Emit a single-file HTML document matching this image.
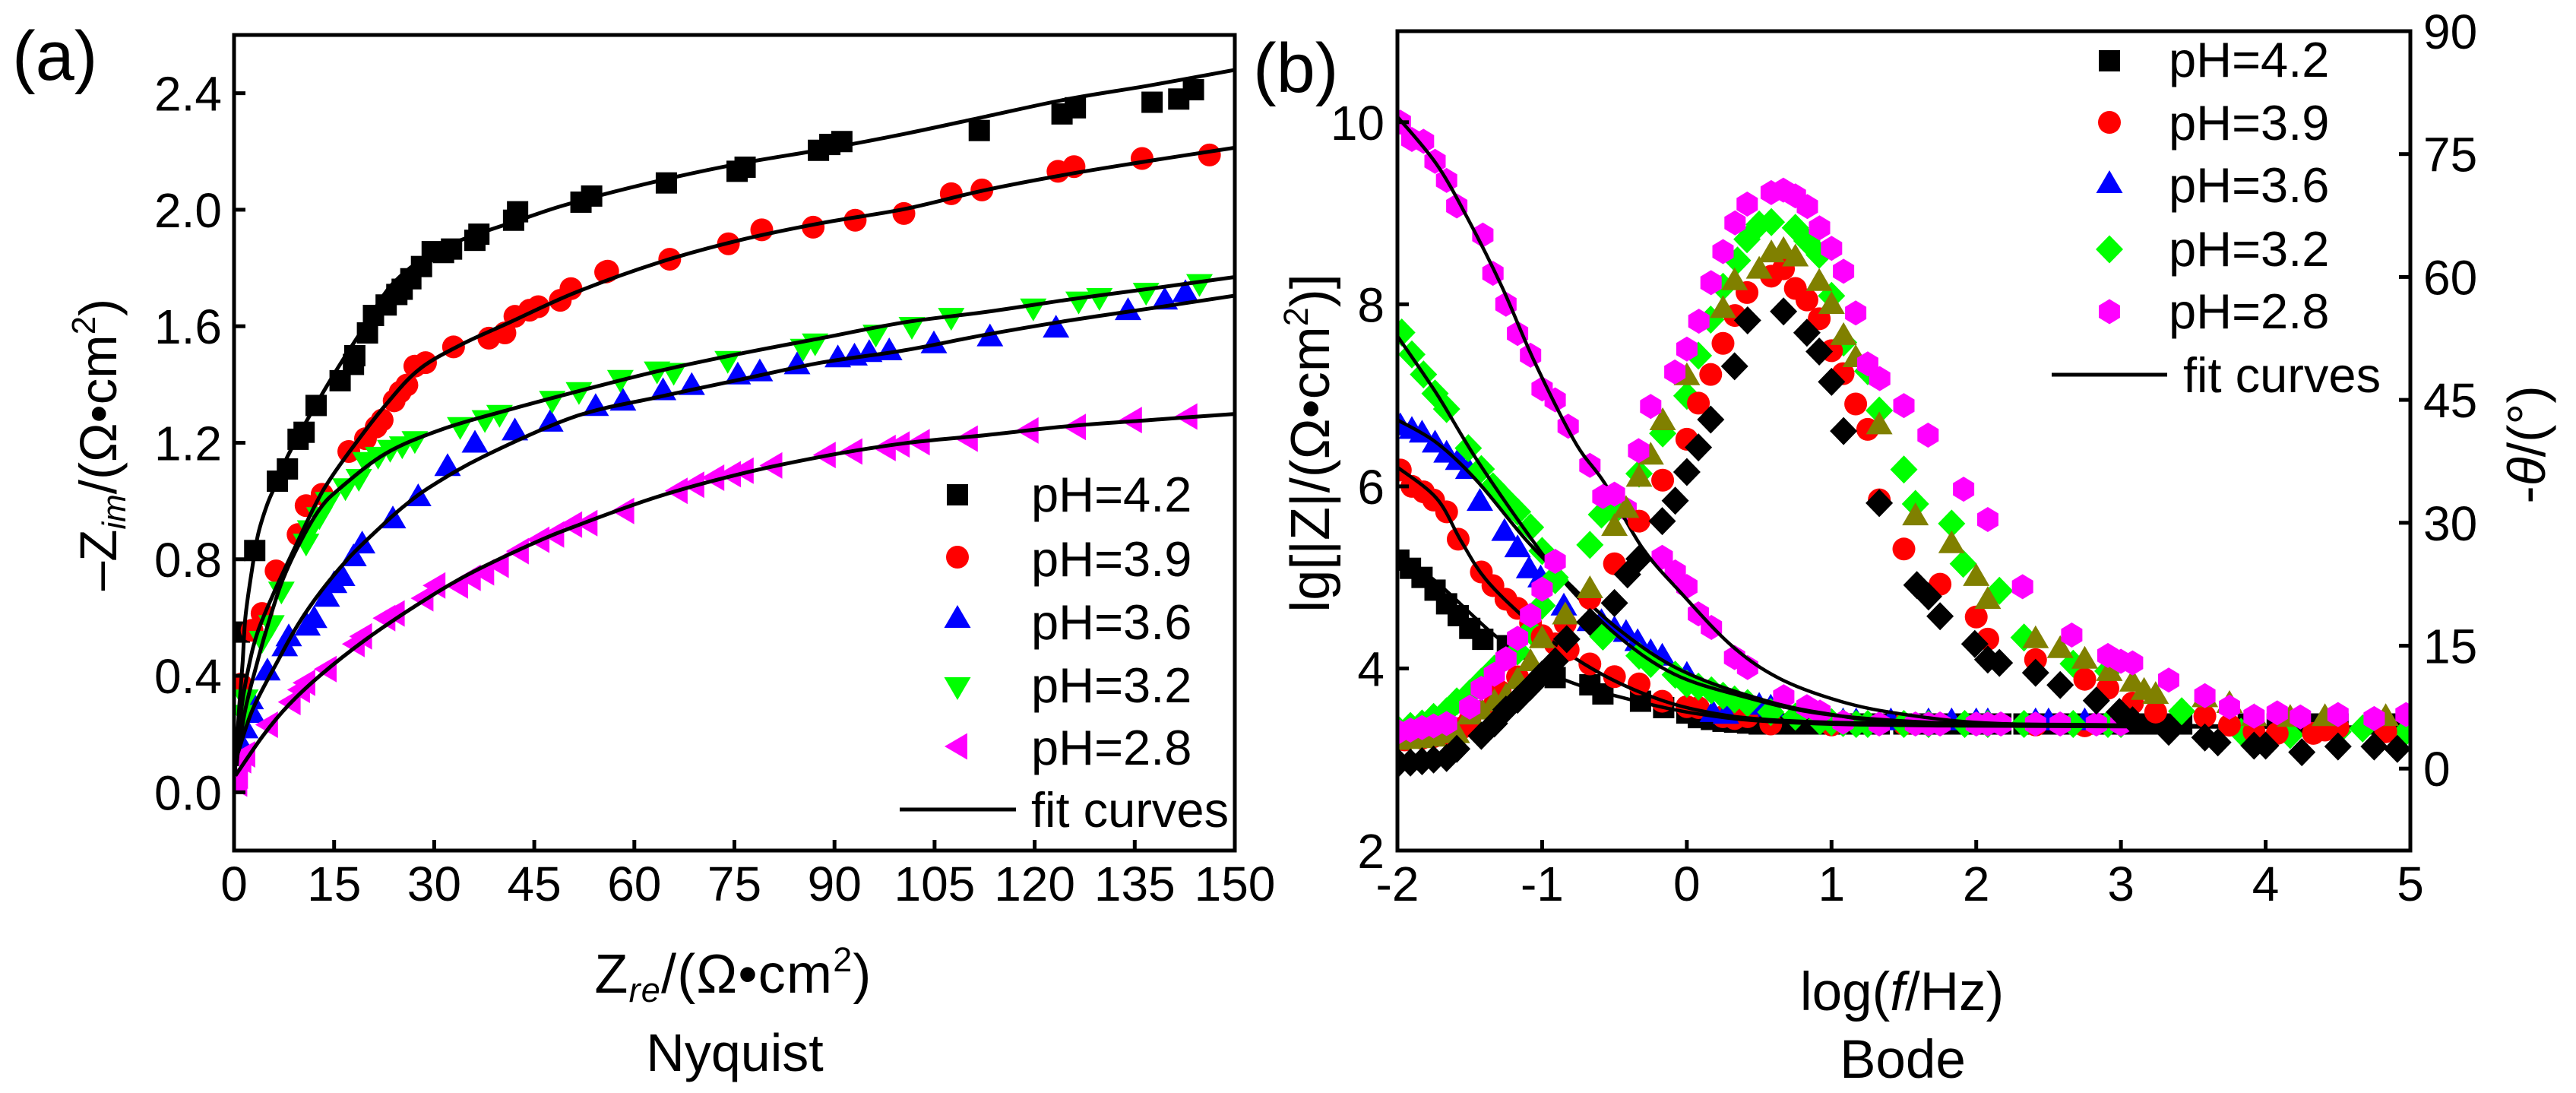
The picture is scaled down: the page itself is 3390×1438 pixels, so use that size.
<!DOCTYPE html>
<html lang="en">
<head>
<meta charset="utf-8">
<title>Nyquist and Bode impedance plots</title>
<style>
html,body{margin:0;padding:0;background:#fff;width:3390px;height:1438px;overflow:hidden}
svg{display:block}
text{font-family:"Liberation Sans",Arial,sans-serif;fill:#000}
</style>
</head>
<body>
<svg id="fig" xmlns="http://www.w3.org/2000/svg" width="3390" height="1438" viewBox="0 0 3390 1438">
<defs>
<clipPath id="clipA"><rect x="308" y="46" width="1317" height="1073"/></clipPath>
<clipPath id="clipB"><rect x="1839" y="41" width="1333" height="1078"/></clipPath>
</defs>
<g id="panelA"></g>
<g id="panelB"></g>

<text x="16" y="105" font-size="92">(a)</text>
<text x="1649" y="121" font-size="92">(b)</text>

<text transform="translate(153,585) rotate(-90)" text-anchor="middle" font-size="69">–Z<tspan font-size="44" font-style="italic" dy="12">im</tspan><tspan dy="-12">/(Ω•cm</tspan><tspan font-size="44" dy="-28">2</tspan><tspan dy="28">)</tspan></text>
<text x="965" y="1306" text-anchor="middle" font-size="72" letter-spacing="1.2">Z<tspan font-size="45" font-style="italic" dy="12">re</tspan><tspan dy="-12">/(Ω•cm</tspan><tspan font-size="45" dy="-28">2</tspan><tspan dy="28">)</tspan></text>
<text x="967" y="1409" text-anchor="middle" font-size="70">Nyquist</text>

<text transform="translate(1749,583) rotate(-90)" text-anchor="middle" font-size="72">lg[|Z|/(Ω•cm<tspan font-size="45" dy="-28">2</tspan><tspan dy="28">)]</tspan></text>
<text transform="translate(3349,585) rotate(-90)" text-anchor="middle" font-size="70">-<tspan font-style="italic">θ</tspan>/(°)</text>
<text x="2503" y="1329" text-anchor="middle" font-size="71">log(<tspan font-style="italic">f</tspan>/Hz)</text>
<text x="2504" y="1418" text-anchor="middle" font-size="71">Bode</text>
</svg>

<script>
// ---------- Nyquist tick labels ----------
const nyquistXTicks = [0,15,30,45,60,75,90,105,120,135,150];
const nyquistYTicks = [0.0,0.4,0.8,1.2,1.6,2.0,2.4];
// ---------- Nyquist points [Zre, -Zim] ----------
const nyqPh42 = [[143.8,2.412],[141.6,2.380],[137.6,2.369],[126.1,2.350],[124.1,2.329],[111.7,2.272],[91.1,2.234],[89.3,2.224],[87.6,2.204],[76.6,2.146],[75.4,2.132],[64.8,2.092],[53.6,2.047],[52,2.026],[42.5,1.993],[41.9,1.964],[36.7,1.916],[36.1,1.895],[32.6,1.865],[31.4,1.853],[29.7,1.856],[28.1,1.805],[26.5,1.763],[25.2,1.727],[24.4,1.709],[22.8,1.673],[20.9,1.637],[20,1.577],[18.1,1.499],[17.9,1.469],[15.9,1.413],[12.3,1.328],[10.5,1.236],[9.6,1.212],[8,1.110],[6.5,1.068],[3.1,0.83],[0.8,0.55]];
const nyqPh39 = [[146.2,2.188],[136.1,2.176],[125.9,2.148],[123.5,2.132],[112.1,2.068],[107.5,2.055],[100.4,1.987],[93.1,1.964],[86.8,1.940],[79.1,1.931],[74.1,1.883],[65.3,1.830],[56,1.789],[55.7,1.786],[50.5,1.729],[48.9,1.689],[45.6,1.667],[44.3,1.655],[42.1,1.634],[40.6,1.577],[38.2,1.559],[32.9,1.529],[28.7,1.475],[27.1,1.463],[25.9,1.398],[24.9,1.374],[24,1.344],[22.2,1.278],[21.3,1.254],[19.7,1.214],[17.2,1.170],[13.2,1.023],[10.8,0.984],[9.6,0.885],[6.3,0.76],[4.2,0.614],[2.7,0.556],[1,0.371]];
const nyqPh36 = [[142.6,1.717],[139.5,1.691],[134,1.655],[123.2,1.595],[113.3,1.565],[104.9,1.541],[98.2,1.517],[95.2,1.511],[93,1.499],[90.5,1.493],[84.4,1.469],[78.8,1.445],[75.5,1.434],[68.6,1.398],[64.3,1.380],[58.3,1.344],[54.2,1.326],[47.4,1.272],[42.1,1.242],[36.1,1.200],[32,1.12],[27.6,1.016],[23.8,0.94],[19.2,0.854],[17.9,0.81],[16.2,0.742],[15,0.718],[13.9,0.671],[12,0.598],[11,0.572],[8.2,0.535],[7.6,0.501],[5,0.418],[2.5,0.319],[2.7,0.272],[1.7,0.219],[1,0.17]];
const nyqPh32 = [[144.7,1.745],[136.7,1.715],[129.7,1.697],[126.6,1.685],[119.8,1.661],[107.5,1.629],[101.6,1.598],[96.2,1.571],[87.1,1.541],[85.3,1.523],[74,1.481],[65.9,1.440],[63.4,1.445],[57.9,1.416],[51.7,1.374],[47.7,1.344],[39.8,1.296],[37.6,1.278],[33.9,1.254],[27.1,1.206],[25.2,1.188],[23.4,1.176],[21.6,1.152],[19.7,1.134],[18.7,1.076],[16.7,1.044],[14.1,0.997],[12.8,0.945],[11.4,0.90],[10.8,0.854],[7.1,0.689],[5.6,0.574],[4.2,0.52],[1.7,0.319],[1.4,0.266]];
const nyqPh28 = [[142.9,1.290],[134.6,1.278],[126.2,1.254],[119.1,1.242],[110,1.214],[102.8,1.202],[99.8,1.194],[97.7,1.182],[92.7,1.170],[88.7,1.158],[80.7,1.122],[76.4,1.104],[74.5,1.092],[72,1.080],[69,1.056],[66.5,1.035],[58.5,0.966],[53,0.924],[50.7,0.919],[48,0.885],[45.8,0.867],[42.7,0.828],[39.7,0.781],[37.5,0.755],[35.5,0.736],[33.6,0.710],[30.2,0.71],[28.4,0.666],[24.1,0.614],[22.7,0.598],[19.2,0.535],[18.1,0.509],[13.9,0.423],[10.7,0.376],[9.9,0.352],[8.5,0.31],[5.1,0.232],[1.7,0.13],[1.1,0.11],[0.6,0.057],[0.5,0.03]];
// ---------- Nyquist fit curves ----------
const nyqFit42 = [[0.1,0.057],[0.8,0.3],[1.3,0.45],[1.7,0.6],[2.6,0.75],[3.6,0.885],[5,0.99],[6.5,1.068],[8,1.152],[11.7,1.308],[15.4,1.451],[19.1,1.583],[24,1.751],[31.4,1.87],[43.7,1.972],[51.1,2.026],[63.4,2.098],[75.7,2.158],[88,2.206],[100.4,2.26],[112.7,2.32],[125,2.38],[137.3,2.427],[150,2.48]];
const nyqFit39 = [[0.4,0.09],[1.1,0.285],[2.2,0.431],[3.6,0.554],[6.3,0.702],[9.3,0.849],[12,0.979],[14.2,1.068],[17.9,1.188],[22.8,1.332],[27.7,1.451],[33.9,1.535],[41.3,1.613],[51.1,1.715],[63.4,1.817],[75.7,1.895],[88,1.954],[100.4,2.002],[112.7,2.068],[125,2.122],[137.3,2.168],[150,2.213]];
const nyqFit36 = [[0.6,0.136],[2.8,0.285],[6.7,0.457],[9.7,0.58],[13.1,0.692],[17.3,0.807],[21.5,0.901],[25.3,0.979],[29.5,1.05],[37.5,1.154],[51.1,1.29],[63.4,1.356],[75.7,1.416],[88,1.475],[100.4,1.517],[112.7,1.571],[125,1.619],[137.3,1.661],[150,1.705]];
const nyqFit32 = [[0.4,0.11],[1.7,0.285],[3.3,0.431],[4.8,0.554],[7.1,0.718],[9.7,0.849],[12.8,0.971],[15.8,1.042],[22.8,1.164],[31.4,1.248],[41.3,1.314],[51.1,1.374],[63.4,1.445],[75.7,1.505],[88,1.559],[100.4,1.613],[112.7,1.649],[125,1.691],[137.3,1.729],[150,1.769]];
const nyqFit28 = [[0.2,0.057],[4.4,0.196],[8.2,0.3],[13.1,0.405],[19.6,0.522],[27.2,0.64],[34.8,0.744],[44.3,0.849],[51.1,0.913],[63.4,1.014],[75.7,1.092],[88,1.152],[100.4,1.198],[112.7,1.226],[125,1.257],[137.3,1.278],[150,1.299]];

// ---------- Bode tick labels ----------
const bodeXTicks = [-2,-1,0,1,2,3,4,5];
const bodeZTicks = [2,4,6,8,10];
const bodePhaseTicks = [0,15,30,45,60,75,90];
// ---------- Bode |Z| points [log f, lg|Z|] ----------
const bodeZ42 = [[-1.99,5.19],[-1.91,5.1],[-1.83,5],[-1.74,4.86],[-1.66,4.71],[-1.58,4.58],[-1.5,4.44],[-1.41,4.32],[-1.24,4.25],[-0.91,3.9],[-0.67,3.82],[-0.58,3.72],[-0.32,3.64],[-0.16,3.57],[0,3.51],[0.08,3.46],[0.17,3.44],[0.25,3.42],[0.33,3.41],[0.42,3.4],[0.5,3.39],[0.58,3.39],[0.67,3.39],[0.75,3.39],[0.83,3.39],[0.92,3.39],[1,3.39],[1.08,3.39],[1.17,3.39],[1.25,3.39],[1.33,3.39],[1.5,3.39],[1.58,3.39],[1.67,3.39],[1.75,3.39],[1.83,3.39],[1.92,3.39],[2,3.39],[2.08,3.39],[2.17,3.39],[2.33,3.39],[2.42,3.39],[2.5,3.39],[2.58,3.39],[2.67,3.39],[2.75,3.39],[2.83,3.39],[2.92,3.39],[3,3.39],[3.08,3.39],[3.17,3.39],[3.25,3.39],[3.33,3.39],[3.42,3.39],[3.88,3.39],[4.08,3.39],[4.25,3.39],[4.33,3.39],[4.5,3.39],[4.75,3.39],[4.92,3.39]];
const bodeZ39 = [[-1.98,6.18],[-1.9,6.0],[-1.82,5.94],[-1.75,5.85],[-1.66,5.72],[-1.58,5.42],[-1.42,5.06],[-1.34,4.91],[-1.25,4.76],[-1.17,4.66],[-1.08,4.5],[-1,4.36],[-0.91,4.27],[-0.83,4.2],[-0.67,4.05],[-0.5,3.91],[-0.33,3.83],[-0.17,3.64],[0,3.58],[0.08,3.57],[0.25,3.47],[0.33,3.45],[0.42,3.47],[0.58,3.39],[1,3.38],[1.5,3.39],[2.41,3.38],[2.75,3.37]];
const bodeZ36 = [[-1.98,6.67],[-1.9,6.63],[-1.83,6.59],[-1.74,6.48],[-1.66,6.37],[-1.58,6.29],[-1.51,6.19],[-1.43,5.84],[-1.26,5.51],[-1.17,5.33],[-1.09,5.1],[-1.01,5.0],[-0.85,4.69],[-0.67,4.52],[-0.59,4.52],[-0.5,4.44],[-0.42,4.4],[-0.34,4.3],[-0.25,4.19],[-0.17,4.14],[0,3.94],[0.18,3.52],[0.27,3.5],[0.5,3.6],[0.58,3.58],[1.08,3.43],[1.17,3.43],[1.41,3.43],[1.67,3.43],[1.83,3.43],[2,3.43],[2.08,3.43],[2.41,3.43],[2.5,3.43],[2.75,3.43]];
const bodeZ32 = [[-1.97,7.69],[-1.9,7.45],[-1.82,7.23],[-1.74,7.02],[-1.66,6.85],[-1.51,6.42],[-1.42,6.19],[-1.34,6.0],[-1.25,5.85],[-1.17,5.72],[-1.08,5.55],[-1,5.29],[-0.91,5.0],[-0.58,4.35],[-0.33,4.14],[-0.25,4.05],[-0.08,3.93],[0,3.83],[0.08,3.8],[0.17,3.76],[0.25,3.7],[0.33,3.66],[0.42,3.62],[0.58,3.52],[0.75,3.47],[0.92,3.42],[1,3.41],[1.08,3.4],[1.17,3.39],[1.25,3.39],[1.5,3.39],[1.67,3.39],[1.92,3.39],[2.08,3.39],[2.33,3.39],[2.67,3.39],[2.91,3.39],[3,3.39]];
const bodeZ28 = [[-1.98,10.0],[-1.9,9.81],[-1.82,9.79],[-1.74,9.57],[-1.66,9.36],[-1.59,9.08],[-1.41,8.76],[-1.34,8.34],[-1.25,8.0],[-1.17,7.68],[-1.08,7.44],[-1.0,7.07],[-0.91,6.95],[-0.82,6.66],[-0.67,6.23],[-0.42,5.75],[-0.17,5.22],[-0.08,5.06],[0,4.9],[0.08,4.6],[0.17,4.45],[0.33,4.12],[0.42,4.01],[0.67,3.69],[0.83,3.58],[0.92,3.52],[1.08,3.41],[1.33,3.39],[1.58,3.39],[1.67,3.39],[1.75,3.39],[2,3.39],[2.08,3.39],[2.17,3.39],[2.41,3.39],[2.58,3.39],[2.83,3.39],[3,3.39]];
// ---------- Bode fit curves ----------
const bodeFit42 = [[-2,5.27],[-1.73,4.95],[-1.34,4.38],[-1.05,4.04],[-0.77,3.83],[-0.37,3.65],[0.08,3.5],[0.65,3.41],[1.79,3.37],[5,3.35]];
const bodeFit39 = [[-2,6.21],[-1.73,5.87],[-1.56,5.4],[-1.39,4.98],[-1.11,4.54],[-0.77,4.11],[-0.37,3.77],[0.08,3.54],[0.65,3.43],[1.79,3.39],[5,3.35]];
const bodeFit36 = [[-2,6.73],[-1.73,6.48],[-1.45,6.06],[-1.11,5.41],[-0.82,4.94],[-0.48,4.44],[-0.09,4.02],[0.37,3.73],[0.94,3.51],[1.79,3.4],[5,3.35]];
const bodeFit32 = [[-2,7.65],[-1.73,7.02],[-1.45,6.29],[-1.05,5.37],[-0.82,4.9],[-0.48,4.36],[-0.09,3.94],[0.37,3.7],[0.94,3.5],[1.79,3.4],[2.92,3.37],[5,3.35]];
const bodeFit28 = [[-2,10.06],[-1.73,9.54],[-1.51,8.93],[-1.28,8.2],[-1.05,7.36],[-0.77,6.48],[-0.57,6.04],[-0.31,5.33],[-0.04,4.83],[0.31,4.25],[0.64,3.89],[1.06,3.64],[1.48,3.5],[2.07,3.4],[2.92,3.38],[5,3.35]];
// ---------- Bode phase points [log f, -theta] ----------
const bodePhase42 = [[-1.99,0.7],[-1.91,0.74],[-1.83,0.9],[-1.75,1.1],[-1.66,1.3],[-1.59,2.4],[-1.42,4],[-1.33,5.5],[-1.25,7.2],[-1.17,8.4],[-1.08,10],[-1,11.5],[-0.91,13.1],[-0.83,15.8],[-0.67,17.9],[-0.5,20.2],[-0.41,23.7],[-0.33,25.6],[-0.17,30.2],[-0.08,32.7],[0,36.2],[0.08,39.2],[0.165,42.6],[0.33,49.1],[0.42,54.7],[0.668,55.8],[0.83,53.2],[0.915,50.9],[1.0,47.2],[1.083,41.2],[1.33,32.4],[1.59,22.4],[1.67,21],[1.75,18.6],[1.99,15.2],[2.08,13.3],[2.16,12.9],[2.41,11.7],[2.58,10.2],[2.83,8.3],[2.99,6.9],[3.08,5.9],[3.33,4.5],[3.58,3.8],[3.67,3.2],[3.92,2.8],[4,2.8],[4.25,2],[4.5,2.7],[4.75,2.7],[4.91,2.4]];
const bodePhase39 = [[-1.95,3.5],[-1.83,3.7],[-1.75,3.9],[-1.66,4.3],[-1.55,5],[-1.5,5.9],[-1.33,7.8],[-1.29,9.4],[-1.17,11.2],[-1,16.1],[-0.84,17.7],[-0.82,14.5],[-0.67,20.8],[-0.5,25],[-0.33,30.2],[-0.167,35.2],[0,40.2],[0.08,44.6],[0.165,48.1],[0.25,51.9],[0.332,55.3],[0.416,58.1],[0.584,60.1],[0.668,61],[0.75,58.6],[0.83,57.2],[0.915,54.9],[1.0,51],[1.08,48.2],[1.167,44.5],[1.25,41.4],[1.33,32.8],[1.5,26.8],[1.75,22.5],[2,18.5],[2.08,15.8],[2.41,13.3],[2.75,10.9],[2.91,9.8],[3.08,8],[3.24,6.9],[3.58,6.4],[3.75,5.3],[3.92,4.5],[4.08,4.3],[4.33,4.3],[4.41,4.7],[4.5,5],[4.83,4.5]];
const bodePhase36 = [[-1.99,3.5],[-1.91,3.6],[-1.83,3.7],[-1.75,3.9],[-1.66,4.3],[-1.59,4.3],[-1.5,6.6],[-1.42,7.2],[-1.33,8.2],[-1.25,8.9],[-1.17,10.9],[-1.08,13.1],[-1,15.9],[-0.84,18.8],[-0.67,22],[-0.5,29.6],[-0.42,31.8],[-0.33,35.6],[-0.25,38.3],[-0.167,42.5],[0,48],[0.25,56.2],[0.33,59.6],[0.5,61],[0.584,63],[0.668,63.4],[0.75,62.5],[0.915,59.5],[1.0,56.7],[1.083,52.9],[1.167,50.2],[1.33,42],[1.58,30.9],[1.83,27.5],[2,23.5],[2.08,20.7],[2.41,15.9],[2.58,14.7],[2.75,13.4],[2.92,11.9],[3.08,10.6],[3.16,9.6],[3.24,9.1],[3.58,8.7],[3.75,8],[3.92,6.4],[4.17,6.3],[4.41,6.4],[4.83,6.4]];
const bodePhase32 = [[-1.99,4.7],[-1.91,5.2],[-1.83,5.5],[-1.75,6.3],[-1.66,7],[-1.59,8.2],[-1.5,9.2],[-1.42,10.6],[-1.33,12.2],[-1.17,14.3],[-1.08,16.8],[-1,19.9],[-0.91,23],[-0.67,27.3],[-0.59,31],[-0.5,31.4],[-0.33,36],[-0.167,40.9],[0,45.5],[0.08,50.4],[0.165,54.8],[0.25,58.8],[0.35,62],[0.416,64.6],[0.5,66.4],[0.584,66.7],[0.75,66],[0.83,64.4],[0.915,62.7],[1.0,57.7],[1.083,52],[1.25,48.5],[1.33,43.7],[1.5,36.5],[1.58,32.3],[1.83,29.9],[1.91,25],[2.16,21.7],[2.33,16],[2.67,12.8],[2.91,11.9],[3.42,7],[3.83,4.5],[4.17,4.1],[4.5,4.5],[4.67,4.9],[4.97,4.5]];
const bodePhase28 = [[-1.99,4.5],[-1.91,4.7],[-1.83,5],[-1.75,5.2],[-1.66,5.5],[-1.5,7.5],[-1.42,9.8],[-1.33,11.5],[-1.25,13.4],[-1.17,15.9],[-1.08,18.7],[-1,21.9],[-0.91,25.3],[-0.58,33.2],[-0.5,33.5],[-0.333,38.8],[-0.25,44.2],[-0.083,48.4],[0,51.2],[0.083,54.6],[0.167,59.3],[0.25,63.1],[0.333,66.6],[0.417,68.9],[0.583,70.3],[0.667,70.6],[0.75,69.9],[0.833,68.6],[0.917,66],[1,63.5],[1.083,60.7],[1.167,55.6],[1.25,49.4],[1.333,47.6],[1.5,44.3],[1.667,40.7],[1.913,34.1],[2.08,30.4],[2.32,22.2],[2.66,16.3],[2.91,13.8],[3,13.1],[3.08,12.9],[3.33,10.8],[3.58,8.9],[3.75,7.5],[3.92,6.4],[4.08,6.8],[4.24,6.3],[4.5,6.6],[4.75,6.1],[4.97,6.6]];

// ---------- Axis functions ----------
const xN = v => 308 + v / 150 * 1317;
const yN = v => 1119 - (v + 0.2) / 2.8 * 1073;
const xB = v => 1839 + (v + 2) / 7 * 1333;
const yZ = v => 1119 - (v - 2) / 9 * 1078;
const yP = v => 1119 - (v + 10) / 100 * 1078;

const NS = 'http://www.w3.org/2000/svg';
function el(tag, attrs, parent) {
  const e = document.createElementNS(NS, tag);
  for (const k in attrs) e.setAttribute(k, attrs[k]);
  parent.appendChild(e);
  return e;
}
function poly(pts, fill, parent) {
  return el('polygon', { points: pts.map(p => p[0].toFixed(1) + ',' + p[1].toFixed(1)).join(' '), fill: fill }, parent);
}
function marker(shape, cx, cy, fill, parent) {
  switch (shape) {
    case 'square': return el('rect', { x: cx - 14, y: cy - 14, width: 28, height: 28, fill: fill }, parent);
    case 'circle': return el('circle', { cx: cx, cy: cy, r: 15, fill: fill }, parent);
    case 'up': return poly([[cx, cy - 17], [cx + 17.5, cy + 13], [cx - 17.5, cy + 13]], fill, parent);
    case 'down': return poly([[cx, cy + 17], [cx + 17.5, cy - 13], [cx - 17.5, cy - 13]], fill, parent);
    case 'left': return poly([[cx - 17, cy], [cx + 13, cy - 17.5], [cx + 13, cy + 17.5]], fill, parent);
    case 'diamond': return poly([[cx, cy - 18.5], [cx + 18, cy], [cx, cy + 18.5], [cx - 18, cy]], fill, parent);
    case 'hex': return poly([[cx, cy - 16.5], [cx + 14, cy - 8], [cx + 14, cy + 8], [cx, cy + 16.5], [cx - 14, cy + 8], [cx - 14, cy - 8]], fill, parent);
  }
}
function scatter(data, fx, fy, shape, fill, parent) {
  const g = el('g', {}, parent);
  
  
  data.forEach(d => {
    const m = marker(shape, fx(d[0]), fy(d[1]), fill, g);
    
    
  });
}
function curve(data, fx, fy, width, parent) {
  const p = data.map(d => [fx(d[0]), fy(d[1])]);
  let s = 'M' + p[0][0].toFixed(1) + ' ' + p[0][1].toFixed(1);
  for (let i = 0; i < p.length - 1; i++) {
    const a = p[Math.max(i - 1, 0)], b = p[i], c = p[i + 1], d = p[Math.min(i + 2, p.length - 1)];
    const c1x = b[0] + (c[0] - a[0]) / 6, c1y = b[1] + (c[1] - a[1]) / 6;
    const c2x = c[0] - (d[0] - b[0]) / 6, c2y = c[1] - (d[1] - b[1]) / 6;
    s += 'C' + c1x.toFixed(1) + ' ' + c1y.toFixed(1) + ' ' + c2x.toFixed(1) + ' ' + c2y.toFixed(1) + ' ' + c[0].toFixed(1) + ' ' + c[1].toFixed(1);
  }
  const path = el('path', { d: s, fill: 'none', stroke: '#000', 'stroke-width': width }, parent);
  
  
}
function label(txt, x, y, anchor, parent, size) {
  const t = el('text', { x: x, y: y, 'text-anchor': anchor, 'font-size': size || 64 }, parent);
  t.textContent = txt;
  
  
}
function tick(x1, y1, x2, y2, parent) {
  const l = el('line', { x1: x1, y1: y1, x2: x2, y2: y2, stroke: '#000', 'stroke-width': 5 }, parent);
  
  
}
function legendRow(txt, shape, fill, mx, my, tx, ty, parent) {
  const g = el('g', {}, parent);
  
  
  marker(shape, mx, my, fill, g);
  label(txt, tx, ty, 'start', g, 65);
}

// ---------- Panel (a) ----------
const A = document.getElementById('panelA');
const aPlot = el('g', { 'clip-path': 'url(#clipA)' }, A);


scatter(nyqPh42, xN, yN, 'square', '#000000', aPlot);
scatter(nyqPh39, xN, yN, 'circle', '#ff0000', aPlot);
scatter(nyqPh36, xN, yN, 'up', '#0000ff', aPlot);
scatter(nyqPh32, xN, yN, 'down', '#00ff00', aPlot);
scatter(nyqPh28, xN, yN, 'left', '#ff00ff', aPlot);
[nyqFit42, nyqFit39, nyqFit36, nyqFit32, nyqFit28].forEach(f => curve(f, xN, yN, 5, aPlot));
const aFrame = el('rect', { x: 308, y: 46, width: 1317, height: 1073, fill: 'none', stroke: '#000', 'stroke-width': 5 }, A);


nyquistXTicks.forEach(v => {
  tick(xN(v), 1119, xN(v), 1105, A);
  label(String(v), xN(v), 1185, 'middle', A);
});
nyquistYTicks.forEach(v => {
  tick(308, yN(v), 323, yN(v), A);
  label(v.toFixed(1), 292, yN(v) + 23, 'end', A);
});
legendRow('pH=4.2', 'square', '#000000', 1260, 651, 1357, 673, A);
legendRow('pH=3.9', 'circle', '#ff0000', 1260, 733, 1357, 758, A);
legendRow('pH=3.6', 'up', '#0000ff', 1260, 813, 1357, 841, A);
legendRow('pH=3.2', 'down', '#00ff00', 1260, 904, 1357, 924, A);
legendRow('pH=2.8', 'left', '#ff00ff', 1260, 982, 1357, 1006, A);
const aLegLine = el('line', { x1: 1184, y1: 1065, x2: 1337, y2: 1065, stroke: '#000', 'stroke-width': 5 }, A);


label('fit curves', 1357, 1088, 'start', A, 65);

// ---------- Panel (b) ----------
const B = document.getElementById('panelB');
const bPlot = el('g', { 'clip-path': 'url(#clipB)' }, B);


scatter(bodeZ42, xB, yZ, 'square', '#000000', bPlot);
scatter(bodeZ39, xB, yZ, 'circle', '#ff0000', bPlot);
scatter(bodeZ36, xB, yZ, 'up', '#0000ff', bPlot);
scatter(bodeZ32, xB, yZ, 'diamond', '#00ff00', bPlot);
scatter(bodeZ28, xB, yZ, 'hex', '#ff00ff', bPlot);
[bodeFit42, bodeFit39, bodeFit36, bodeFit32, bodeFit28].forEach(f => curve(f, xB, yZ, 4.5, bPlot));
scatter(bodePhase32, xB, yP, 'diamond', '#00ff00', bPlot);
scatter(bodePhase39, xB, yP, 'circle', '#ff0000', bPlot);
scatter(bodePhase36, xB, yP, 'up', '#808000', bPlot);
scatter(bodePhase28, xB, yP, 'hex', '#ff00ff', bPlot);
scatter(bodePhase42, xB, yP, 'diamond', '#000000', bPlot);
const bFrame = el('rect', { x: 1839, y: 41, width: 1333, height: 1078, fill: 'none', stroke: '#000', 'stroke-width': 5 }, B);


bodeXTicks.forEach(v => {
  tick(xB(v), 1119, xB(v), 1105, B);
  label(String(v), xB(v), 1185, 'middle', B);
});
bodeZTicks.forEach(v => {
  tick(1839, yZ(v), 1854, yZ(v), B);
  label(String(v), 1822, yZ(v) + 23, 'end', B);
});
bodePhaseTicks.forEach(v => {
  tick(3172, yP(v), 3157, yP(v), B);
  label(String(v), 3189, yP(v) + 23, 'start', B);
});
legendRow('pH=4.2', 'square', '#000000', 2776, 80, 2854, 101, B);
legendRow('pH=3.9', 'circle', '#ff0000', 2776, 161, 2854, 184, B);
legendRow('pH=3.6', 'up', '#0000ff', 2776, 241, 2854, 266, B);
legendRow('pH=3.2', 'diamond', '#00ff00', 2776, 328, 2854, 350, B);
legendRow('pH=2.8', 'hex', '#ff00ff', 2776, 410, 2854, 432, B);
const bLegLine = el('line', { x1: 2700, y1: 493, x2: 2852, y2: 493, stroke: '#000', 'stroke-width': 5 }, B);


label('fit curves', 2873, 516, 'start', B, 65);
</script>
</body>
</html>
